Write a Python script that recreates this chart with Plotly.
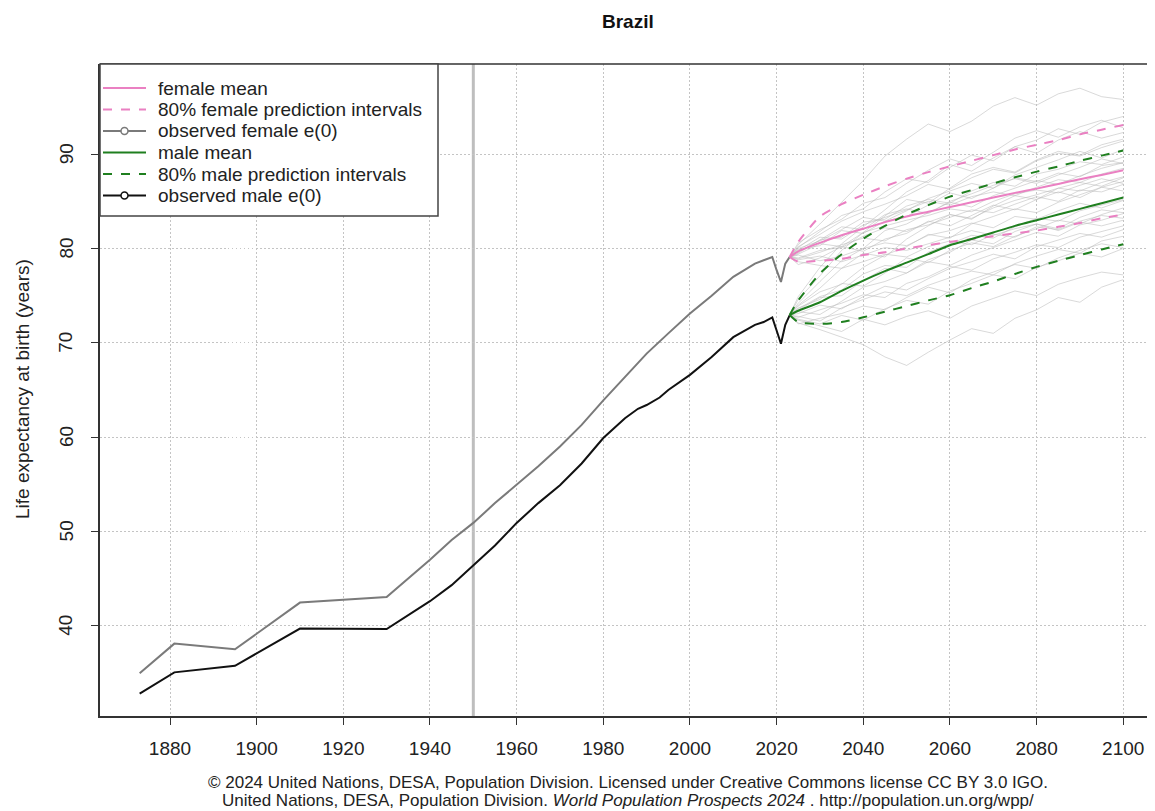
import plotly.graph_objects as go

# ---------------- data ----------------
obs_f_years = [1873, 1881, 1895, 1910, 1930, 1940, 1945, 1950, 1955, 1960, 1965, 1970, 1975,
               1980, 1985, 1990, 1995, 2000, 2005, 2010, 2015, 2019, 2020, 2021, 2022, 2023]
obs_f_vals = [34.95, 38.1, 37.5, 42.45, 43.05, 47.0, 49.1, 50.9, 53.0, 54.9, 56.9, 59.0, 61.3,
              63.9, 66.4, 68.85, 71.0, 73.1, 75.0, 77.0, 78.4, 79.1, 77.7, 76.45, 78.4, 79.1]

obs_m_years = [1873, 1881, 1895, 1910, 1930, 1940, 1945, 1950, 1955, 1960, 1965, 1970, 1975,
               1980, 1985, 1988, 1990, 1993, 1995, 2000, 2005, 2010, 2013, 2015, 2017, 2019,
               2020, 2021, 2022, 2023]
obs_m_vals = [32.8, 35.05, 35.75, 39.7, 39.65, 42.6, 44.3, 46.4, 48.5, 50.9, 53.0, 54.9, 57.2,
              59.9, 62.0, 63.0, 63.4, 64.2, 65.0, 66.6, 68.5, 70.6, 71.4, 71.9, 72.2, 72.7,
              71.3, 69.9, 71.9, 72.9]

proj_years = [2023, 2025, 2030, 2035, 2040, 2045, 2050, 2055, 2060, 2065, 2070, 2075, 2080,
              2085, 2090, 2095, 2100]

f_mean = [79.1, 79.7, 80.6, 81.4, 82.1, 82.8, 83.4, 83.9, 84.4, 84.9, 85.4, 85.9, 86.35,
          86.85, 87.35, 87.8, 88.3]
f_upper = [79.1, 80.7, 83.4, 84.7, 85.7, 86.6, 87.4, 88.1, 88.7, 89.3, 89.9, 90.5, 91.0,
           91.5, 92.1, 92.6, 93.1]
f_lower = [79.1, 78.6, 78.7, 78.9, 79.3, 79.6, 80.0, 80.35, 80.7, 81.0, 81.3, 81.6, 81.9,
           82.3, 82.7, 83.2, 83.6]

m_mean = [72.95, 73.4, 74.3, 75.5, 76.6, 77.6, 78.5, 79.4, 80.35, 81.0, 81.7, 82.4, 83.0,
          83.6, 84.2, 84.8, 85.4]
m_upper = [72.95, 74.5, 77.35, 79.4, 81.05, 82.4, 83.6, 84.6, 85.5, 86.2, 86.9, 87.55, 88.15,
           88.7, 89.3, 89.85, 90.4]
m_lower = [72.95, 72.2, 72.0, 72.2, 72.7, 73.3, 73.9, 74.5, 75.05, 75.8, 76.5, 77.3, 78.05,
           78.7, 79.3, 79.9, 80.45]

# simulated trajectories (light grey)
traj_f1 = [79.1, 80.4, 82.6, 84.9, 87.2, 89.8, 91.6, 93.2, 92.4, 93.5, 95.1, 96.0, 95.2, 96.4, 97.0, 96.1, 95.8]
traj_f2 = [79.1, 80.1, 81.8, 83.5, 84.2, 86.0, 87.4, 87.0, 88.6, 89.9, 89.3, 90.8, 91.5, 92.7, 92.1, 93.4, 94.0]
traj_f3 = [79.1, 79.5, 80.9, 81.2, 82.8, 83.1, 84.5, 85.2, 84.8, 86.1, 87.0, 86.6, 87.9, 88.4, 89.2, 88.9, 89.7]
traj_f4 = [79.1, 79.9, 80.3, 81.9, 81.6, 82.9, 83.4, 84.6, 85.9, 85.3, 86.4, 87.5, 87.1, 88.0, 87.6, 88.8, 89.1]
traj_f5 = [79.1, 78.9, 79.6, 80.4, 81.1, 80.8, 82.0, 82.5, 83.3, 84.1, 83.8, 84.7, 85.5, 85.0, 86.2, 86.0, 86.8]
traj_f6 = [79.1, 79.3, 78.7, 79.2, 80.0, 80.6, 80.3, 81.4, 81.9, 82.7, 82.2, 83.4, 83.1, 84.0, 84.8, 84.3, 85.1]
traj_f7 = [79.1, 78.6, 78.2, 77.9, 78.6, 79.4, 79.1, 80.2, 80.8, 80.4, 81.5, 81.2, 82.3, 82.0, 82.9, 83.5, 83.2]
traj_f8 = [79.1, 80.2, 81.5, 82.9, 83.9, 84.7, 85.6, 86.8, 86.3, 87.5, 88.4, 88.0, 89.3, 90.1, 89.8, 90.7, 91.4]
traj_f9 = [79.1, 79.6, 80.9, 82.3, 82.0, 83.6, 84.2, 83.7, 85.0, 85.8, 86.7, 87.4, 86.9, 87.8, 88.6, 89.5, 89.0]
traj_f10 = [79.1, 79.0, 79.8, 80.1, 81.3, 82.2, 81.8, 82.8, 83.6, 83.2, 84.3, 85.1, 85.7, 86.4, 86.1, 87.0, 87.6]
traj_f11 = [79.1, 79.8, 81.2, 81.0, 82.5, 83.3, 84.1, 85.0, 84.6, 85.5, 86.0, 85.6, 86.5, 87.3, 87.0, 87.9, 88.5]
traj_f12 = [79.1, 78.8, 79.2, 78.6, 79.3, 80.1, 79.8, 80.5, 81.2, 81.9, 81.4, 82.1, 82.6, 81.9, 82.8, 82.4, 83.0]
traj_f13 = [79.1, 80.6, 82.0, 83.1, 84.8, 85.4, 86.9, 88.3, 89.5, 88.8, 90.2, 91.7, 92.5, 91.8, 92.9, 93.6, 92.8]
traj_f14 = [79.1, 78.3, 79.0, 80.2, 79.7, 81.0, 81.6, 82.9, 82.4, 83.5, 84.6, 84.1, 85.2, 86.0, 85.4, 86.5, 87.1]
traj_f15 = [79.1, 80.0, 80.8, 82.0, 83.3, 82.9, 84.0, 85.3, 86.1, 86.9, 86.4, 87.8, 88.6, 89.4, 90.3, 89.6, 90.5]
traj_f16 = [79.1, 79.4, 80.5, 80.2, 81.7, 82.4, 83.0, 83.5, 84.2, 83.9, 85.0, 85.8, 86.2, 85.9, 86.7, 87.4, 86.9]
traj_m1 = [72.95, 74.6, 77.1, 79.8, 81.7, 83.5, 85.2, 84.8, 86.4, 87.9, 88.6, 88.1, 89.4, 90.3, 89.9, 91.0, 91.6]
traj_m2 = [72.95, 74.0, 75.8, 77.9, 79.5, 79.1, 81.0, 82.4, 83.6, 83.1, 84.5, 85.6, 85.2, 86.4, 87.0, 86.6, 87.5]
traj_m3 = [72.95, 73.6, 74.9, 75.6, 77.3, 78.2, 78.0, 79.6, 80.5, 81.4, 81.1, 82.3, 83.2, 82.9, 84.0, 84.6, 85.2]
traj_m4 = [72.95, 72.7, 73.5, 74.2, 75.1, 74.8, 76.3, 77.0, 78.1, 77.7, 78.9, 79.6, 80.4, 80.1, 81.2, 81.8, 82.4]
traj_m5 = [72.95, 72.1, 71.4, 70.6, 69.8, 68.5, 67.6, 69.0, 70.3, 71.5, 71.0, 72.6, 73.5, 74.8, 74.3, 75.9, 76.7]
traj_m6 = [72.95, 72.5, 72.0, 72.9, 72.4, 73.6, 74.5, 74.1, 75.5, 76.3, 77.2, 76.8, 78.0, 78.7, 79.5, 79.1, 80.0]
traj_m7 = [72.95, 73.9, 75.4, 76.2, 78.0, 79.3, 80.2, 81.5, 81.1, 82.6, 83.4, 84.2, 83.8, 84.9, 85.7, 86.5, 86.1]
traj_m8 = [72.95, 73.3, 73.0, 74.4, 75.9, 76.5, 77.4, 78.6, 78.2, 79.3, 80.1, 80.9, 81.7, 81.3, 82.5, 83.0, 83.7]
traj_m9 = [72.95, 72.4, 71.8, 71.2, 72.5, 71.9, 72.8, 73.4, 72.6, 73.9, 74.7, 75.5, 75.0, 76.2, 76.9, 77.5, 77.2]
traj_m10 = [72.95, 74.2, 76.5, 78.7, 80.0, 81.9, 82.6, 83.8, 84.9, 84.4, 85.6, 86.4, 87.2, 86.8, 87.7, 88.5, 89.1]
traj_m11 = [72.95, 73.1, 74.0, 73.6, 74.9, 76.0, 75.6, 76.8, 77.9, 78.6, 79.4, 78.9, 80.2, 80.9, 81.6, 81.2, 82.0]
traj_m12 = [72.95, 73.7, 74.6, 76.3, 76.0, 77.4, 79.0, 78.5, 79.8, 80.6, 80.2, 81.3, 82.1, 83.0, 82.6, 83.6, 84.3]
traj_m13 = [72.95, 74.9, 78.0, 80.5, 82.3, 84.1, 86.0, 87.2, 88.9, 88.2, 89.6, 90.8, 90.1, 91.5, 92.4, 91.7, 92.3]
traj_m14 = [72.95, 72.0, 72.6, 73.1, 73.9, 73.5, 74.8, 75.9, 75.3, 76.7, 77.5, 78.3, 77.9, 79.0, 79.8, 80.5, 80.1]
traj_m15 = [72.95, 73.5, 74.8, 75.0, 76.6, 77.9, 77.4, 78.8, 79.6, 80.9, 80.5, 81.8, 82.6, 82.1, 83.3, 84.1, 83.8]
traj_m16 = [72.95, 72.8, 72.3, 73.7, 74.6, 75.4, 75.0, 76.1, 76.9, 77.6, 77.2, 78.4, 79.2, 79.9, 79.5, 80.8, 81.3]

trajectories = [traj_f1, traj_f2, traj_f3, traj_f4, traj_f5, traj_f6, traj_f7, traj_f8,
                traj_f9, traj_f10, traj_f11, traj_f12, traj_f13, traj_f14, traj_f15, traj_f16,
                traj_m1, traj_m2, traj_m3, traj_m4, traj_m5, traj_m6, traj_m7, traj_m8,
                traj_m9, traj_m10, traj_m11, traj_m12, traj_m13, traj_m14, traj_m15, traj_m16]

x_ticks = [1880, 1900, 1920, 1940, 1960, 1980, 2000, 2020, 2040, 2060, 2080, 2100]
y_ticks = [40, 50, 60, 70, 80, 90]

legend_labels = ["female mean", "80% female prediction intervals", "observed female e(0)",
                 "male mean", "80% male prediction intervals", "observed male e(0)"]

title_text = "Brazil"
y_title = "Life expectancy at birth (years)"
footer_1 = "© 2024 United Nations, DESA, Population Division. Licensed under Creative Commons license CC BY 3.0 IGO."
footer_2 = "United Nations, DESA, Population Division. <i>World Population Prospects 2024</i> . http://population.un.org/wpp/"

# ---------------- styles ----------------
PINK = "#EA80C2"
GREEN = "#1F7F1F"
OBS_F = "#7A7A7A"
OBS_M = "#111111"
FONT = "Liberation Sans, Arial, sans-serif"
FS = 19

OFF = 8  # page body margin
W, H = 1155 - OFF, 811 - OFF
ML, MR, MT, MB = 100 - OFF, 0, 64 - OFF, 811 - 716
PW, PH = W - ML - MR, H - MT - MB

fig = go.Figure()

for tr in trajectories:
    fig.add_trace(go.Scatter(x=proj_years, y=tr, mode="lines",
                             line=dict(color="rgba(185,185,185,0.55)", width=1),
                             hoverinfo="skip", showlegend=False))

fig.add_trace(go.Scatter(x=obs_f_years, y=obs_f_vals, mode="lines",
                         line=dict(color=OBS_F, width=2), showlegend=False))
fig.add_trace(go.Scatter(x=obs_m_years, y=obs_m_vals, mode="lines",
                         line=dict(color=OBS_M, width=2), showlegend=False))

for vals, dash in [(f_upper, "dash"), (f_lower, "dash"), (f_mean, "solid")]:
    fig.add_trace(go.Scatter(x=proj_years, y=vals, mode="lines",
                             line=dict(color=PINK, width=2, dash=dash, shape="spline", smoothing=0.6),
                             showlegend=False))
for vals, dash in [(m_upper, "dash"), (m_lower, "dash"), (m_mean, "solid")]:
    fig.add_trace(go.Scatter(x=proj_years, y=vals, mode="lines",
                             line=dict(color=GREEN, width=2, dash=dash, shape="spline", smoothing=0.6),
                             showlegend=False))

XS = 4.333  # px per year
x0 = 1880 - (170 - 100) / XS
x1 = x0 + PW / XS
YS = 9.43  # px per year of e0
y0 = 40 - (716 - 625.7) / YS
y1 = y0 + PH / YS

fig.update_xaxes(range=[x0, x1], tickvals=x_ticks, ticks="outside", ticklen=7, tickwidth=1,
                 tickcolor="#333", showline=True, linecolor="#333", linewidth=1.5,
                 showgrid=True, gridcolor="#C4C4C4", griddash="1.5px,2.5px", gridwidth=1,
                 zeroline=False, ticklabelstandoff=7,
                 tickfont=dict(family=FONT, size=FS, color="#222"))
fig.update_yaxes(range=[y0, y1], tickvals=y_ticks, ticks="outside", ticklen=7, tickwidth=1,
                 tickcolor="#333", showline=True, linecolor="#333", linewidth=1.5,
                 showgrid=True, gridcolor="#C4C4C4", griddash="1.5px,2.5px", gridwidth=1,
                 zeroline=False, showticklabels=False)

shapes = []
shapes.append(dict(type="line", xref="x", yref="paper", x0=1950, x1=1950, y0=0, y1=1,
                   line=dict(color="#BEBEBE", width=3), layer="below"))
shapes.append(dict(type="line", xref="paper", yref="paper", x0=0, x1=1, y0=1, y1=1,
                   line=dict(color="#333", width=1.5), layer="above"))


def px_x(p):
    return (p - OFF - ML) / PW


def px_y(p):
    return (H - MB - (p - OFF)) / PH


shapes.append(dict(type="rect", xref="paper", yref="paper", x0=px_x(100), x1=px_x(438),
                   y0=px_y(216), y1=px_y(64), fillcolor="white",
                   line=dict(color="#444", width=1.5), layer="above"))
rows = [88, 109.5, 131, 152.5, 174, 195.5]
styles = [(PINK, "solid", False), (PINK, "dash", False), (OBS_F, "solid", True),
          (GREEN, "solid", False), (GREEN, "dash", False), (OBS_M, "solid", True)]
annotations = []
for ry, (col, dash, marker), lab in zip(rows, styles, legend_labels):
    shapes.append(dict(type="line", xref="paper", yref="paper", x0=px_x(103), x1=px_x(146),
                       y0=px_y(ry), y1=px_y(ry), line=dict(color=col, width=2, dash=dash),
                       layer="above"))
    if marker:
        shapes.append(dict(type="circle", xref="paper", yref="paper", xsizemode="pixel",
                           ysizemode="pixel", xanchor=px_x(124.5), yanchor=px_y(ry),
                           x0=-3.5, x1=3.5, y0=-3.5, y1=3.5, fillcolor="white",
                           line=dict(color=col, width=1.5), layer="above"))
    annotations.append(dict(text=lab, xref="paper", yref="paper", x=px_x(156), y=px_y(ry),
                            xanchor="left", yanchor="middle", showarrow=False,
                            font=dict(family=FONT, size=FS, color="#222")))

# rotated y tick labels (R style)
for v in y_ticks:
    annotations.append(dict(text=str(v), xref="paper", yref="y", x=px_x(66), y=v,
                            xanchor="center", yanchor="middle", showarrow=False, textangle=-90,
                            font=dict(family=FONT, size=FS, color="#222")))

annotations.append(dict(text=y_title, xref="paper", yref="paper", x=px_x(22), y=px_y(389),
                        xanchor="center", yanchor="middle", showarrow=False, textangle=-90,
                        font=dict(family=FONT, size=FS, color="#222")))
annotations.append(dict(text="<b>" + title_text + "</b>", xref="paper", yref="paper",
                        x=px_x(628), y=px_y(22), xanchor="center", yanchor="middle",
                        showarrow=False, font=dict(family=FONT, size=FS, color="#111")))
annotations.append(dict(text=footer_1, xref="paper", yref="paper", x=px_x(628), y=px_y(782),
                        xanchor="center", yanchor="middle", showarrow=False,
                        font=dict(family=FONT, size=17, color="#222")))
annotations.append(dict(text=footer_2, xref="paper", yref="paper", x=px_x(628), y=px_y(800),
                        xanchor="center", yanchor="middle", showarrow=False,
                        font=dict(family=FONT, size=17, color="#222")))

fig.update_layout(width=W, height=H, margin=dict(l=ML, r=MR, t=MT, b=MB, pad=0),
                  plot_bgcolor="white", paper_bgcolor="white", showlegend=False,
                  shapes=shapes, annotations=annotations, font=dict(family=FONT))

fig.write_html("out.html")
